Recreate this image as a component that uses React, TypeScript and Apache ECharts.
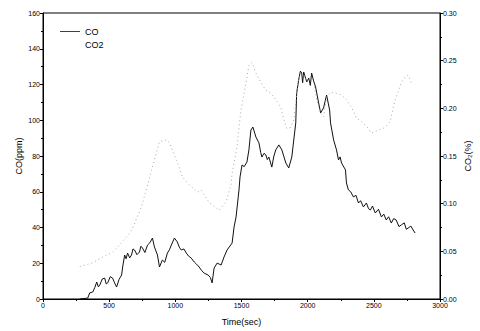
import React, { useEffect, useRef } from "react";
import * as echarts from "echarts";

const coTime = [278, 338, 353, 376, 392, 406, 418, 429, 448, 466, 478, 489, 508, 526, 541, 556, 575, 594, 602, 617, 628, 639, 655, 669, 680, 692, 710, 729, 740, 752, 770, 790, 808, 827, 842, 865, 880, 902, 920, 940, 955, 970, 993, 1015, 1030, 1045, 1065, 1083, 1100, 1120, 1143, 1160, 1180, 1200, 1218, 1248, 1265, 1278, 1293, 1316, 1346, 1368, 1391, 1429, 1444, 1459, 1481, 1489, 1504, 1520, 1541, 1556, 1571, 1586, 1609, 1632, 1645, 1654, 1670, 1684, 1695, 1707, 1729, 1745, 1759, 1782, 1805, 1835, 1857, 1880, 1910, 1917, 1932, 1945, 1955, 1962, 1970, 1993, 2008, 2020, 2030, 2045, 2060, 2083, 2098, 2120, 2143, 2166, 2173, 2196, 2218, 2233, 2245, 2256, 2286, 2293, 2308, 2325, 2346, 2365, 2384, 2400, 2421, 2444, 2460, 2474, 2490, 2511, 2535, 2557, 2575, 2594, 2612, 2632, 2650, 2669, 2690, 2707, 2730, 2745, 2759, 2780, 2797, 2812];
const coValue = [0, 0.5, 3.4, 3.9, 6.5, 9.5, 6.8, 7.8, 11.2, 11.7, 8.4, 9.0, 12.5, 11.7, 9.0, 6.7, 11.0, 13.4, 17.9, 24.6, 22.5, 25.7, 23.0, 24.6, 28.0, 27.4, 24.8, 26.3, 29.5, 28.5, 26.0, 30.2, 31.5, 34.1, 29.1, 24.6, 17.9, 21.8, 20.5, 25.7, 27.5, 30.2, 34.1, 31.9, 29.0, 27.4, 28.0, 25.7, 24.0, 22.9, 20.7, 19.5, 17.9, 15.8, 14.5, 13.4, 12.0, 9.0, 17.3, 20.1, 19.0, 23.5, 27.4, 31.3, 40.3, 45.9, 61.0, 68.3, 75.0, 74.0, 76.6, 83.4, 94.5, 96.2, 90.6, 87.3, 82.0, 79.4, 81.5, 80.6, 78.0, 79.4, 73.8, 80.0, 83.4, 86.2, 83.4, 76.1, 73.3, 79.4, 98.5, 115.2, 122.5, 127.5, 126.4, 121.0, 127.0, 121.4, 123.6, 119.5, 126.4, 122.0, 118.6, 109.7, 104.1, 106.9, 114.1, 105.7, 98.5, 89.0, 83.4, 77.8, 79.5, 76.1, 72.2, 64.9, 61.0, 60.0, 57.1, 58.0, 53.7, 55.0, 51.5, 53.7, 50.5, 49.8, 52.0, 48.1, 50.2, 45.9, 47.5, 44.2, 46.0, 42.5, 45.0, 44.2, 40.5, 41.4, 42.6, 39.0, 39.7, 40.8, 38.6, 36.9];

const co2Time = [278, 376, 451, 526, 594, 654, 677, 744, 759, 820, 880, 932, 955, 993, 1015, 1053, 1105, 1165, 1196, 1256, 1331, 1384, 1421, 1429, 1466, 1481, 1496, 1534, 1556, 1579, 1609, 1647, 1684, 1722, 1759, 1797, 1820, 1842, 1872, 1895, 1910, 1925, 1947, 1970, 1993, 2023, 2045, 2068, 2098, 2120, 2143, 2173, 2211, 2256, 2293, 2331, 2369, 2406, 2459, 2481, 2534, 2587, 2624, 2647, 2662, 2707, 2737, 2759, 2782];
const co2Value = [0.034, 0.038, 0.044, 0.049, 0.059, 0.069, 0.074, 0.097, 0.104, 0.135, 0.165, 0.167, 0.164, 0.151, 0.144, 0.128, 0.120, 0.112, 0.114, 0.101, 0.093, 0.102, 0.120, 0.132, 0.159, 0.180, 0.198, 0.227, 0.245, 0.248, 0.237, 0.227, 0.219, 0.216, 0.209, 0.201, 0.188, 0.179, 0.180, 0.188, 0.206, 0.227, 0.237, 0.235, 0.228, 0.233, 0.227, 0.209, 0.195, 0.191, 0.212, 0.217, 0.216, 0.214, 0.209, 0.201, 0.190, 0.186, 0.179, 0.174, 0.177, 0.180, 0.186, 0.201, 0.209, 0.227, 0.233, 0.235, 0.227];

const FONT = "Liberation Sans";

export default function App() {
  const ref = useRef<HTMLDivElement>(null);
  useEffect(() => {
    if (!ref.current) return;
    const chart = echarts.init(ref.current, undefined, { renderer: "svg" });
    const coData = coTime.map((t, i) => [t, coValue[i]]);
    const co2Data = co2Time.map((t, i) => [t, co2Value[i]]);
    const axisCommon = {
      axisLine: { show: true, lineStyle: { color: "#000", width: 1 } },
      axisTick: { show: true, inside: false, length: 3, lineStyle: { color: "#000" } },
      minorTick: { show: true, splitNumber: 2, length: 2, lineStyle: { color: "#000" } },
      splitLine: { show: false },
      axisLabel: { color: "#000", fontSize: 7, fontFamily: FONT, margin: 3, formatter: (v: number) => String(v) },
      nameTextStyle: { color: "#000", fontSize: 9, fontFamily: FONT },
      nameMoveOverlap: false,
    };
    chart.setOption({
      animation: false,
      backgroundColor: "#fff",
      grid: {
        left: 43, right: 38, top: 13, bottom: 32,
        show: true, borderColor: "#000", borderWidth: 1, backgroundColor: "transparent",
      },
      legend: {
        orient: "vertical", left: 60, top: 27, padding: 0, itemWidth: 20, itemHeight: 9, itemGap: 4,
        textStyle: { color: "#000", fontSize: 9, fontFamily: FONT },
        data: [
          { name: "CO", icon: "path://M0,4.5 L20,4.5 L20,5.3 L0,5.3 Z" },
          { name: "CO2", icon: "none" },
        ],
      },
      xAxis: {
        type: "value", min: 0, max: 3000, interval: 500,
        name: "Time(sec)", nameLocation: "middle", nameGap: 18,
        ...axisCommon,
      },
      yAxis: [
        {
          type: "value", min: 0, max: 160, interval: 20, position: "left",
          name: "CO(ppm)", nameLocation: "middle", nameGap: 20, nameRotate: 90,
          ...axisCommon,
        },
        {
          type: "value", min: 0, max: 0.3, interval: 0.05, position: "right",
          name: "CO₂(%)", nameLocation: "middle", nameGap: 23, nameRotate: 90,
          ...axisCommon,
          axisLabel: { ...axisCommon.axisLabel, formatter: (v: number) => v.toFixed(2) },
        },
      ],
      series: [
        {
          name: "CO", type: "line", data: coData, yAxisIndex: 0, symbol: "none",
          lineStyle: { color: "#111", width: 1 }, itemStyle: { color: "#111" },
        },
        {
          name: "CO2", type: "line", data: co2Data, yAxisIndex: 1, symbol: "none",
          lineStyle: { color: "#aaa", width: 1, type: [1, 3] }, itemStyle: { color: "#aaa" },
        },
      ],
    });
    return () => chart.dispose();
  }, []);
  return <div ref={ref} style={{ width: 480, height: 331, position: "fixed", left: 0, top: 0 }} />;
}
